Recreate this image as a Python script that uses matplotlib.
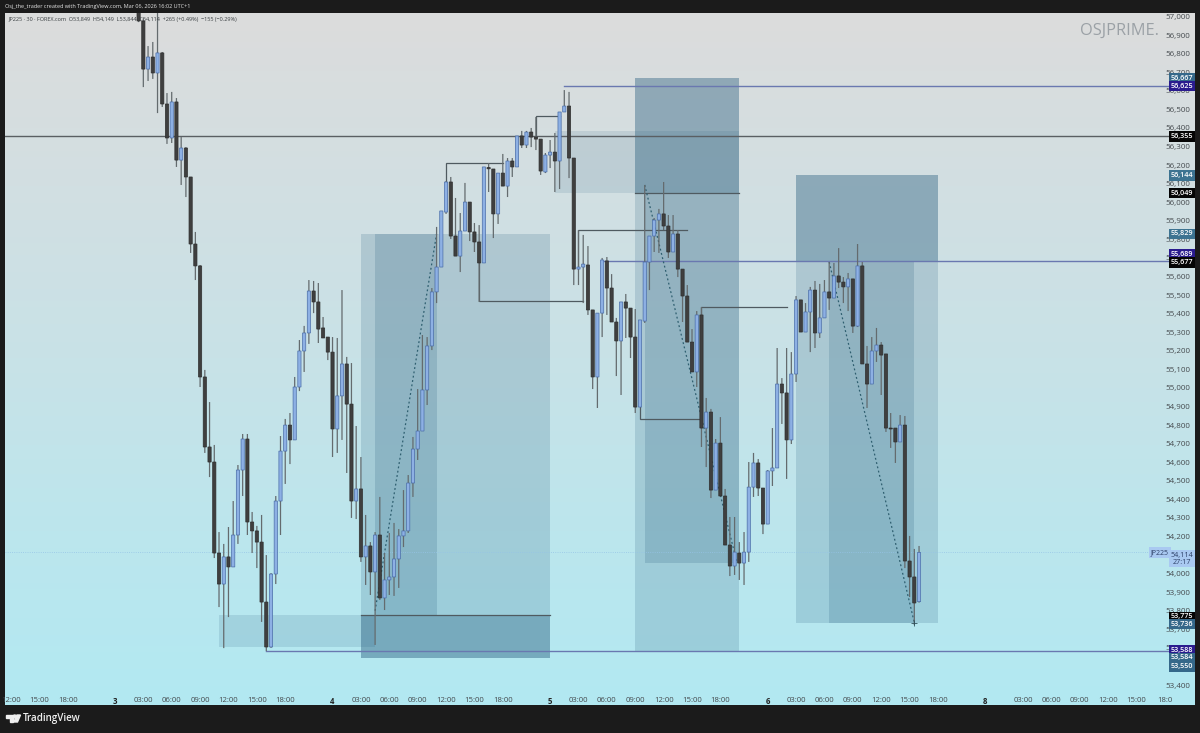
import matplotlib
matplotlib.use("Agg")
import matplotlib.pyplot as plt
import numpy as np
from matplotlib.colors import LinearSegmentedColormap
from matplotlib.patches import Circle, Polygon, Rectangle
from matplotlib.transforms import blended_transform_factory

plt.rcParams["font.family"] = ["Open Sans", "DejaVu Sans"]

# 30 minute JP225 bars
opens = [57200, 56976, 56717, 56782, 56696, 56804, 56529, 56346, 56540, 56227, 56292, 56136, 55775, 55657, 55059, 54682, 54601, 54111, 53944, 54090, 54036, 54208, 54558, 54725, 54278, 54230, 54170, 53847, 53605, 53998, 54391, 54660, 54800, 54720, 55005, 55199, 55296, 55522, 55463, 55323, 55274, 55193, 54779, 54957, 55129, 54913, 54391, 54456, 54090, 54149, 54009, 54208, 53869, 53966, 53982, 54079, 54203, 54230, 54488, 54671, 54768, 54989, 55226, 55517, 55651, 55947, 56109, 55818, 55710, 55845, 56001, 55840, 55786, 55673, 56187, 56179, 55937, 56157, 56087, 56222, 56190, 56357, 56308, 56378, 56351, 56340, 56163, 56254, 56270, 56222, 56486, 56518, 56238, 55640, 55651, 55662, 55420, 55059, 55403, 55684, 55538, 55355, 55253, 55463, 55430, 55274, 54897, 55360, 55678, 55818, 55904, 55937, 55872, 55732, 55829, 55640, 55495, 55247, 55086, 55393, 54784, 54870, 54450, 54703, 54418, 54154, 54041, 54111, 54057, 54116, 54466, 54596, 54461, 54267, 54553, 54569, 55021, 54973, 54720, 55075, 55474, 55301, 55409, 55527, 55296, 55377, 55517, 55484, 55603, 55570, 55544, 55587, 55333, 55657, 55129, 55021, 55199, 55231, 55183, 54784, 54784, 54709, 54800, 54068, 53982, 53849]
highs = [57300, 56990, 56841, 56863, 57019, 56809, 56588, 56594, 56561, 56351, 56297, 56136, 55840, 55662, 55097, 54924, 54693, 54224, 54160, 54251, 54391, 54585, 54752, 54752, 54332, 54257, 54316, 54100, 54003, 54418, 54741, 54833, 54865, 55059, 55258, 55334, 55581, 55576, 55565, 55382, 55274, 55274, 55269, 55527, 55167, 55134, 54795, 54628, 54316, 54170, 54224, 54413, 54111, 54219, 54273, 54240, 54450, 54531, 54736, 54994, 55285, 55274, 55538, 55867, 55953, 56114, 56136, 56023, 55942, 56104, 56001, 55888, 55877, 56190, 56211, 56179, 56157, 56260, 56238, 56238, 56357, 56384, 56384, 56400, 56459, 56340, 56265, 56335, 56373, 56486, 56604, 56594, 56238, 55850, 55824, 55764, 55420, 55403, 55700, 55705, 55613, 55377, 55463, 55506, 55430, 55425, 55366, 56093, 55818, 55915, 55964, 56109, 55931, 55931, 55850, 55640, 55554, 55317, 55414, 55436, 54946, 54887, 54725, 54843, 54456, 54305, 54305, 54170, 54224, 54601, 54650, 54617, 54461, 54558, 54784, 55215, 55053, 55215, 55193, 55495, 55474, 55457, 55544, 55576, 55560, 55581, 55678, 55673, 55753, 55597, 55619, 55587, 55775, 55678, 55226, 55274, 55323, 55247, 55183, 54865, 54784, 54854, 54849, 54203, 54133, 54149]
lows = [56970, 56620, 56653, 56664, 56480, 56513, 56314, 56319, 56190, 56093, 56028, 55727, 55581, 55005, 54650, 54520, 54084, 53820, 53599, 53766, 54036, 54160, 54418, 54208, 54111, 54030, 53740, 53583, 53600, 53944, 54208, 54483, 54590, 54720, 54983, 55086, 55237, 55403, 55242, 55269, 55150, 54628, 54650, 54720, 54542, 54300, 54294, 54063, 53939, 53885, 53616, 53858, 53804, 53885, 53880, 53923, 54143, 54219, 54413, 54612, 54768, 54908, 55204, 55457, 55651, 55937, 55802, 55710, 55624, 55845, 55791, 55732, 55463, 55673, 56055, 55807, 55883, 56087, 56028, 56136, 56190, 56292, 56292, 56297, 56281, 56147, 56157, 56184, 56055, 56071, 56486, 56130, 55554, 55554, 55457, 55393, 54994, 54892, 55274, 55393, 55355, 55064, 54962, 55269, 55161, 54865, 54897, 55350, 55527, 55732, 55727, 55850, 55700, 55732, 55597, 55355, 55247, 55086, 55005, 54682, 54574, 54407, 54450, 54418, 54154, 53987, 53993, 53966, 53939, 54063, 54413, 54418, 54213, 54267, 54472, 54569, 54806, 54510, 54698, 55032, 55301, 55301, 55193, 55215, 55269, 55377, 55420, 55484, 55538, 55457, 55414, 55296, 55328, 55129, 54892, 55021, 55140, 54962, 54763, 54677, 54596, 54709, 54030, 53874, 53723, 53844]
closes = [56976, 56717, 56782, 56696, 56804, 56529, 56346, 56540, 56227, 56292, 56136, 55775, 55657, 55059, 54682, 54601, 54111, 53944, 54090, 54036, 54208, 54558, 54725, 54278, 54230, 54170, 53847, 53605, 53998, 54391, 54660, 54800, 54720, 55005, 55199, 55296, 55522, 55463, 55317, 55269, 55193, 54779, 54957, 55129, 54913, 54391, 54456, 54090, 54149, 54009, 54208, 53869, 53966, 53982, 54079, 54203, 54230, 54488, 54671, 54768, 54989, 55226, 55517, 55651, 55953, 56109, 55818, 55710, 55845, 56001, 55840, 55786, 55673, 56190, 56180, 55937, 56157, 56087, 56222, 56190, 56357, 56308, 56378, 56351, 56340, 56168, 56254, 56270, 56222, 56486, 56518, 56238, 55640, 55651, 55667, 55420, 55059, 55403, 55689, 55538, 55355, 55253, 55463, 55430, 55274, 54897, 55366, 55678, 55818, 55904, 55937, 55872, 55732, 55829, 55640, 55495, 55247, 55086, 55393, 54784, 54870, 54450, 54703, 54418, 54154, 54041, 54116, 54057, 54116, 54466, 54596, 54461, 54267, 54553, 54569, 55021, 54973, 54720, 55075, 55474, 55301, 55409, 55527, 55296, 55377, 55517, 55484, 55603, 55570, 55544, 55587, 55333, 55657, 55129, 55021, 55199, 55231, 55177, 54784, 54779, 54709, 54800, 54068, 53982, 53842, 54114]

# price axis, labels hidden behind the tags are left out
price_ticks = [p for p in range(53400, 57001, 100) if p not in (54100, 53500)]

# time axis: bar number of each label
time_tick_bars = [-27, -21, -15, -5, 1, 7, 13, 19, 25, 31, 41, 47, 53, 59, 65, 71, 77, 87, 93, 99, 105, 111, 117, 123, 133, 139, 145, 151, 157, 163, 169, 179, 187, 193, 199, 205, 211, 217]
time_tick_labels = ["12:00", "15:00", "18:00", "3", "03:00", "06:00", "09:00", "12:00", "15:00", "18:00", "4", "03:00", "06:00", "09:00", "12:00", "15:00", "18:00", "5", "03:00", "06:00", "09:00", "12:00", "15:00", "18:00", "6", "03:00", "06:00", "09:00", "12:00", "15:00", "18:00", "8", "03:00", "06:00", "09:00", "12:00", "15:00", "18:0"]
day_labels = ["3", "4", "5", "6", "8"]

# price tags on the right: value, colour, nudge in px to stop them overlapping
tag_values = [56667, 56625, 56355, 56144, 56049, 55829, 55689, 55677, 53775, 53736, 53588, 53584, 53550]
tag_colors = ["#35688a", "#2a1b8e", "#050505", "#3d7391", "#050505", "#3d7391", "#2a1b8e", "#050505", "#050505", "#35688a", "#2a1b8e", "#35688a", "#35688a"]
tag_nudges = [0, 0, 0, 0, 0, 0, -5.5, 0, 1.5, 1.5, 0, 7, 9.5]

# shaded zones: bar from, bar to, price low, price high, alpha
zones_bar_from = [17, 47, 50, 47, 105, 105, 107, 88, 139, 139, 146]
zones_bar_to = [50, 87, 63, 87, 127, 127, 127, 127, 169, 169, 164]
zones_low = [53605, 53775, 53775, 53546, 56049, 53584, 54057, 56049, 55677, 53736, 53736]
zones_high = [53775, 55829, 55829, 53775, 56667, 56049, 56049, 56384, 56144, 55677, 55677]
zones_alpha = [0.15, 0.19, 0.2, 0.45, 0.42, 0.19, 0.2, 0.13, 0.42, 0.19, 0.2]

# structure lines
step_lines = [
    ([65, 65, 77], [56109, 56211, 56211]),
    ([84, 84, 89], [56351, 56464, 56464]),
    ([72, 72, 94], [55673, 55468, 55468]),
    ([93, 93, 116], [55650, 55850, 55850]),
    ([106, 106, 119], [54897, 54833, 54833]),
    ([119, 119, 137], [55393, 55436, 55436]),
    ([105, 127], [56049, 56049]),
    ([47, 87], [53775, 53775]),
]
level_bars = [90, 98, 27]
level_prices = [56625, 55684, 53584]
trend_lines = [
    ([50, 63], [53800, 55829]),
    ([107, 126.5], [56093, 54057]),
    ([146, 164], [55678, 53736]),
]

BAR_PX = 4.73
FIRST_BAR_PX = 138.6
LEFT, RIGHT, TOP, BOTTOM = 5, 1195, 13, 705
W, H = 1200, 733

fig = plt.figure(figsize=(W / 100, H / 100), dpi=100, facecolor="#1b1b1b")

ax = fig.add_axes([LEFT / W, (H - BOTTOM) / H, (RIGHT - LEFT) / W, (BOTTOM - TOP) / H])
ax.set_xlim((LEFT - FIRST_BAR_PX) / BAR_PX, (RIGHT - FIRST_BAR_PX) / BAR_PX)
ax.set_ylim(53292.6, 57019)
for s in ax.spines.values():
    s.set_visible(False)

# background gradient
cmap = LinearSegmentedColormap.from_list("bg", ["#dcdcdc", "#d2dfe2", "#c8e2e7", "#bce6ed", "#b2e9f2"])
ax.imshow(np.linspace(0, 1, 256).reshape(-1, 1), cmap=cmap, aspect="auto", extent=[0, 1, 0, 1],
          transform=ax.transAxes, zorder=0)

# zones
for x0, x1, lo, hi, a in zip(zones_bar_from, zones_bar_to, zones_low, zones_high, zones_alpha):
    ax.add_patch(Rectangle((x0, lo), x1 - x0, hi - lo, facecolor="#2c6080", alpha=a, edgecolor="none", zorder=1))

# levels and structure
ax.axhline(56355, color="#5a5f63", lw=1.0, zorder=2)
ax.axhline(54114, color="#96c4e6", lw=0.6, ls=":", zorder=2)
for b, p in zip(level_bars, level_prices):
    ax.plot([b, ax.get_xlim()[1]], [p, p], color="#6a78b0", lw=1.0, zorder=2)
for xs, ys in step_lines:
    ax.plot(xs, ys, color="#4f5a60", lw=0.9, zorder=2, solid_joinstyle="miter")
for xs, ys in trend_lines:
    ax.plot(xs, ys, color="#2f5f70", lw=0.9, ls=(0, (1.5, 2)), zorder=2)
ax.plot([164], [53736], marker="+", ms=5, mew=0.6, color="#2f4f5a", zorder=4)

# candles
bars = np.arange(len(opens))
o, h, l, c = map(np.array, (opens, highs, lows, closes))
up = c >= o
wicks = ax.vlines(bars, l, h, color="#646b6e", lw=0.9, zorder=3)
wicks.set_snap(False)
for mask, fill, edge in [(up, "#8db0e4", "#4a6da8"), (~up, "#3f3f3f", "#2f2f2f")]:
    tops = np.maximum(o, c)[mask]
    bottoms = np.minimum(o, c)[mask]
    for rect in ax.bar(bars[mask], tops - bottoms, bottom=bottoms, width=0.68, color=fill, edgecolor=edge,
                       linewidth=0.5, zorder=3.5):
        rect.set_snap(False)
ax.set_xlim((LEFT - FIRST_BAR_PX) / BAR_PX, (RIGHT - FIRST_BAR_PX) / BAR_PX)
ax.set_ylim(53292.6, 57019)

# axes labels live inside the plot area
ax.set_yticks(price_ticks)
ax.set_yticklabels([f"{p:,}" for p in price_ticks])
ax.yaxis.tick_right()
ax.tick_params(axis="y", length=0, pad=-21, labelsize=5.8, labelcolor="#454a4e")
ax.set_xticks(time_tick_bars)
ax.set_xticklabels(time_tick_labels)
ax.tick_params(axis="x", length=0, pad=-6, labelsize=5.6, labelcolor="#454a4e")
for t in ax.get_xticklabels():
    if t.get_text() in day_labels:
        t.set_fontweight("bold")
        t.set_color("#222222")

# price tags
tr = blended_transform_factory(ax.transAxes, ax.transData)
tag_x = (1182 - LEFT) / (RIGHT - LEFT)
for v, col, n in zip(tag_values, tag_colors, tag_nudges):
    ax.annotate(f"{v:,}", xy=(tag_x, v), xycoords=tr, xytext=(0, -n * 0.72), textcoords="offset points",
                ha="center", va="center", fontsize=5.2, color="white", fontweight="semibold", zorder=6,
                bbox=dict(boxstyle="square,pad=0.25", facecolor=col, edgecolor="none"), annotation_clip=False)

# last price tags
ax.annotate("JP225", xy=((1160 - LEFT) / (RIGHT - LEFT), 54114), xycoords=tr, ha="center", va="center",
            fontsize=5.0, color="#2c3f66", zorder=6,
            bbox=dict(boxstyle="square,pad=0.25", facecolor="#a9c9f1", edgecolor="none"))
ax.annotate("54,114\n27:17", xy=(tag_x, 54080), xycoords=tr, ha="center", va="center", fontsize=5.2,
            color="#2c3f66", linespacing=1.0, zorder=6,
            bbox=dict(boxstyle="square,pad=0.22", facecolor="#a9c9f1", edgecolor="none"))

ax.text(0.003, 0.9905, "JP225 · 30 · FOREX.com  O53,849  H54,149  L53,844  C54,114  +265 (+0.49%)  −155 (−0.29%)",
        transform=ax.transAxes, fontsize=4.0, color="#3a3f42", va="center", zorder=5)
ax.text((1119.5 - LEFT) / (RIGHT - LEFT), 1 - (31 - TOP) / (BOTTOM - TOP), "OSJPRIME.", transform=ax.transAxes,
        fontsize=11.8, color="#9ba1a6", ha="center", va="center", zorder=5)

# header and footer chrome in pixel coordinates
chrome = fig.add_axes([0, 0, 1, 1], facecolor="none")
chrome.set_xlim(0, W)
chrome.set_ylim(H, 0)
chrome.axis("off")
chrome.text(5, 6.8, "Osj_the_trader created with TradingView.com, Mar 06, 2026 16:02 UTC+1", fontsize=4.0,
            color="#e4e4e4", va="center")
chrome.text(23, 718.5, "TradingView", fontsize=7.1, color="#efefef", va="center", fontweight="semibold")
chrome.add_patch(Polygon([(6, 715), (12.5, 715), (12.5, 722), (9.5, 722), (9.5, 718), (6, 718)], color="#efefef"))
chrome.add_patch(Circle((14.7, 716.5), 1.5, color="#efefef"))
chrome.add_patch(Polygon([(17, 715), (20.5, 715), (17.5, 722), (13.8, 722)], color="#efefef"))

fig.savefig("out.png", dpi=100, facecolor=fig.get_facecolor())
